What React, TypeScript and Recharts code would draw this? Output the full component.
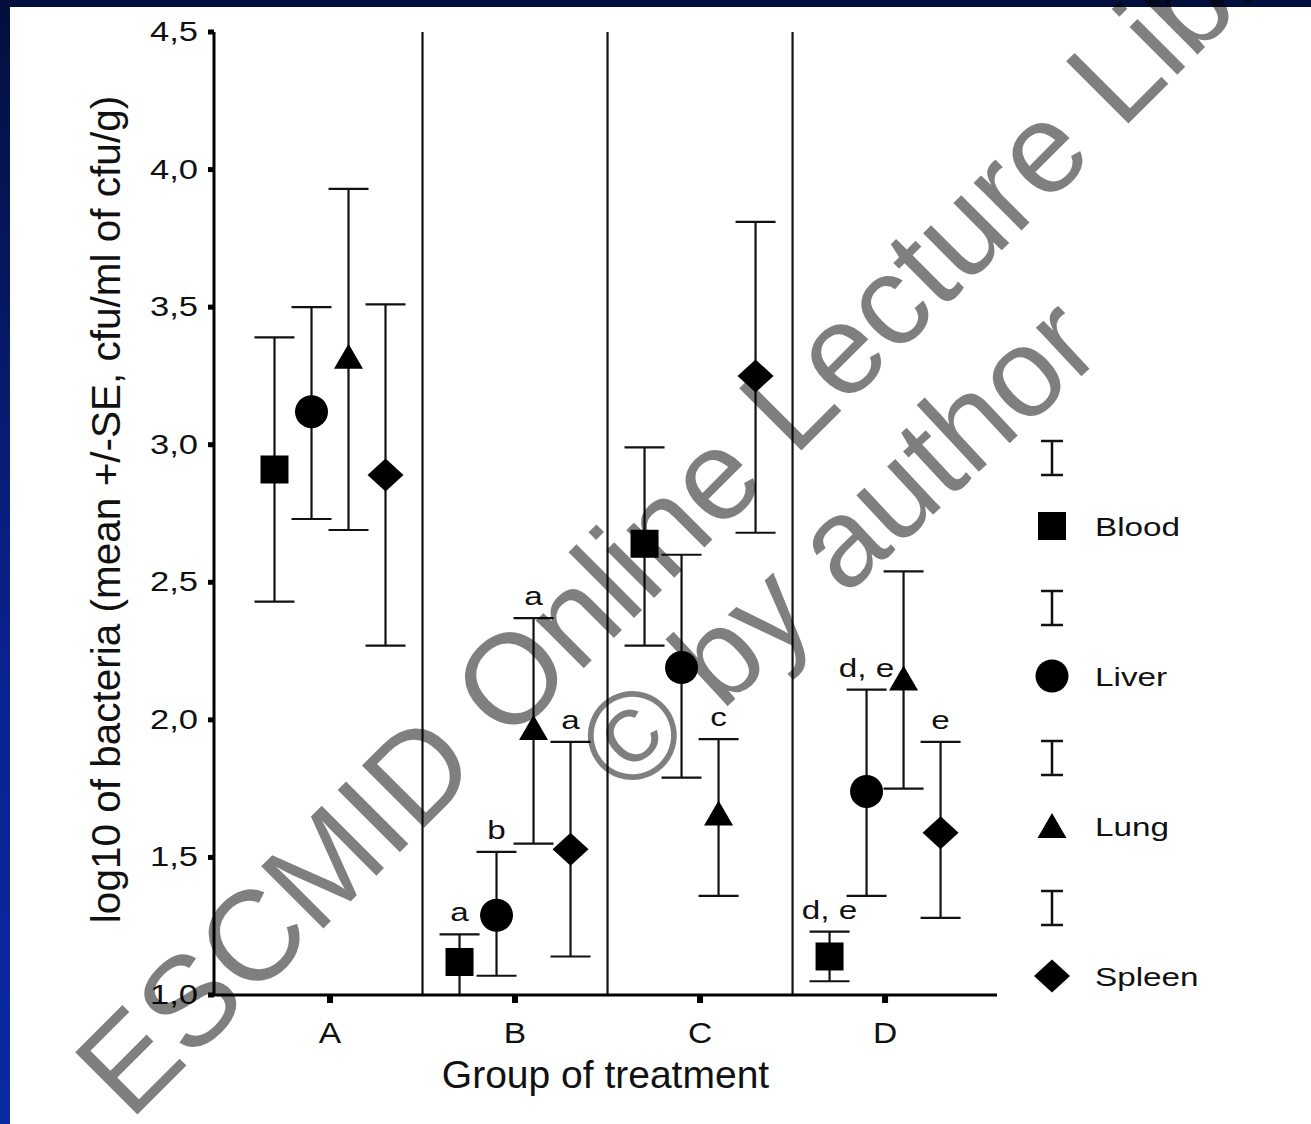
import React from "react";
import { ScatterChart, Scatter, XAxis, YAxis, ErrorBar, ReferenceLine, Legend, Label } from "recharts";

const groups = ["A", "B", "C", "D"];
const groupTicks = [1, 2, 3, 4];
const yTicks = [1, 1.5, 2, 2.5, 3, 3.5, 4, 4.5];
const groupBreaks = [1.5, 2.5, 3.5];

const bloodMean = [2.91, 1.12, 2.64, 1.14];
const bloodLow = [2.43, 1.0, 2.27, 1.05];
const bloodHigh = [3.39, 1.22, 2.99, 1.23];
const bloodNotes = ["", "a", "", "d, e"];

const liverMean = [3.12, 1.29, 2.19, 1.74];
const liverLow = [2.73, 1.07, 1.79, 1.36];
const liverHigh = [3.5, 1.52, 2.6, 2.11];
const liverNotes = ["", "b", "", "d, e"];

const lungMean = [3.32, 1.97, 1.66, 2.15];
const lungLow = [2.69, 1.55, 1.36, 1.75];
const lungHigh = [3.93, 2.37, 1.93, 2.54];
const lungNotes = ["", "a", "c", ""];

const spleenMean = [2.89, 1.53, 3.25, 1.59];
const spleenLow = [2.27, 1.14, 2.68, 1.28];
const spleenHigh = [3.51, 1.92, 3.81, 1.92];
const spleenNotes = ["", "a", "", "e"];

const FONT = "'Liberation Sans', Arial, Helvetica, sans-serif";
const STRETCH = 1.28;

const series = [
  { name: "Blood", kind: "square", mean: bloodMean, low: bloodLow, high: bloodHigh, notes: bloodNotes },
  { name: "Liver", kind: "circle", mean: liverMean, low: liverLow, high: liverHigh, notes: liverNotes },
  { name: "Lung", kind: "triangle", mean: lungMean, low: lungLow, high: lungHigh, notes: lungNotes },
  { name: "Spleen", kind: "diamond", mean: spleenMean, low: spleenLow, high: spleenHigh, notes: spleenNotes },
];
// horizontal dodge of each organ inside its group
const dodge = [-0.3, -0.1, 0.1, 0.3];

const points = series.map((s, k) =>
  groups.map((g, i) => ({
    group: g,
    x: i + 1 + dodge[k],
    y: s.mean[i],
    err: [s.mean[i] - s.low[i], s.high[i] - s.mean[i]],
    note: s.notes[i],
  }))
);
const notePoints = points.flat().filter((p) => p.note !== "").map((p) => ({ x: p.x, y: p.y + p.err[1], note: p.note }));

const Marker = ({ cx, cy, kind }: any) => {
  if (cx == null || cy == null) return null;
  if (kind === "square") return <rect x={cx - 14} y={cy - 14} width={28} height={28} fill="#000" />;
  if (kind === "circle") return <circle cx={cx} cy={cy} r={16.5} fill="#000" />;
  if (kind === "triangle")
    return <path d={`M${cx},${cy - 13}L${cx + 14.5},${cy + 12}L${cx - 14.5},${cy + 12}Z`} fill="#000" />;
  return <path d={`M${cx},${cy - 16.5}L${cx + 18},${cy}L${cx},${cy + 16.5}L${cx - 18},${cy}Z`} fill="#000" />;
};

const SmallText = ({ x, y, anchor = "start", children, size = 26, sx = STRETCH }: any) => (
  <g transform={`translate(${x},${y}) scale(${sx},1)`}>
    <text x={0} y={0} textAnchor={anchor} fontSize={size} fontFamily={FONT} fill="#111">
      {children}
    </text>
  </g>
);

const NoteShape = (props: any) => {
  const { cx, cy, payload } = props;
  if (cx == null || cy == null) return null;
  return (
    <SmallText x={cx} y={cy - 13} anchor="middle">
      {payload.note}
    </SmallText>
  );
};

const YTick = ({ x, y, payload }: any) => (
  <SmallText x={x - 8} y={y + 9} anchor="end" size={27}>
    {String(payload.value.toFixed(1)).replace(".", ",")}
  </SmallText>
);

const XTick = ({ x, y, payload }: any) => (
  <SmallText x={x} y={y + 38} anchor="middle" size={30} sx={1.12}>
    {groups[payload.value - 1]}
  </SmallText>
);

const ErrorIcon = ({ cx, cy }: any) => (
  <g stroke="#111" strokeWidth={2.5}>
    <line x1={cx} y1={cy - 17} x2={cx} y2={cy + 17} />
    <line x1={cx - 11} y1={cy - 17} x2={cx + 11} y2={cy - 17} />
    <line x1={cx - 11} y1={cy + 17} x2={cx + 11} y2={cy + 17} />
  </g>
);

const renderLegend = () => (
  <svg width={300} height={600}>
    {series.map((s, i) => {
      const cy = 106 + i * 150;
      return (
        <g key={s.name}>
          <ErrorIcon cx={52} cy={cy - 68} />
          <Marker cx={52} cy={cy} kind={s.kind} />
          <SmallText x={95} y={cy + 10}>
            {s.name}
          </SmallText>
        </g>
      );
    })}
  </svg>
);

export default function App() {
  return (
    <div
      style={{
        position: "absolute",
        left: 0,
        top: 0,
        width: 1311,
        height: 1124,
        background: "#fff",
        overflow: "hidden",
      }}
    >
      <ScatterChart width={1311} height={1124} margin={{ top: 32, right: 314, bottom: 0, left: 0 }}>
        <XAxis
          type="number"
          dataKey="x"
          domain={[0.373, 4.605]}
          ticks={groupTicks}
          allowDataOverflow
          height={129}
          axisLine={{ stroke: "#000", strokeWidth: 3 }}
          tickLine={{ stroke: "#000", strokeWidth: 6 }}
          tickSize={8}
          tick={<XTick />}
        >
          <Label
            content={({ viewBox }: any) => (
              <text
                x={viewBox.x + viewBox.width / 2}
                y={viewBox.y + 93}
                textAnchor="middle"
                fontSize={39}
                fontFamily={FONT}
                fill="#111"
              >
                Group of treatment
              </text>
            )}
          />
        </XAxis>
        <YAxis
          type="number"
          dataKey="y"
          domain={[1, 4.5]}
          ticks={yTicks}
          allowDataOverflow
          width={214}
          axisLine={{ stroke: "#000", strokeWidth: 3 }}
          tickLine={{ stroke: "#000", strokeWidth: 5 }}
          tickSize={6}
          tick={<YTick />}
        >
          <Label
            content={({ viewBox }: any) => {
              const cx = 106;
              const cy = viewBox.y + viewBox.height / 2 - 4;
              return (
                <text
                  x={cx}
                  y={cy}
                  transform={`rotate(-90, ${cx}, ${cy})`}
                  textAnchor="middle"
                  dominantBaseline="central"
                  fontSize={40.5}
                  fontFamily={FONT}
                  fill="#111"
                >
                  log10 of bacteria (mean +/-SE, cfu/ml of cfu/g)
                </text>
              );
            }}
          />
        </YAxis>
        {groupBreaks.map((b) => (
          <ReferenceLine key={b} x={b} stroke="#111" strokeWidth={2.2} />
        ))}
        {series.map((s, k) => (
          <Scatter
            key={s.name}
            name={s.name}
            data={points[k]}
            fill="#000"
            isAnimationActive={false}
            shape={(p: any) => <Marker {...p} kind={s.kind} />}
          >
            <ErrorBar dataKey="err" direction="y" width={20} stroke="#111" strokeWidth={2.2} />
          </Scatter>
        ))}
        <Scatter
          name="notes"
          data={notePoints}
          legendType="none"
          isAnimationActive={false}
          shape={(p: any) => <NoteShape {...p} />}
        />
        <Legend
          layout="vertical"
          align="center"
          verticalAlign="middle"
          content={renderLegend}
          wrapperStyle={{ position: "absolute", left: 1000, top: 420, width: 300, height: 600 }}
        />
      </ScatterChart>
      <div style={{ position: "absolute", left: 0, top: 0, width: 1311, height: 7, background: "#03103d" }} />
      <div
        style={{
          position: "absolute",
          left: 0,
          top: 0,
          width: 10,
          height: 1124,
          background: "linear-gradient(to bottom, #03103d, #0b2291 60%, #0a2aa2)",
        }}
      />
      <svg
        width={1311}
        height={1124}
        style={{ position: "absolute", left: 0, top: 0, pointerEvents: "none" }}
      >
        <g fontFamily={FONT} fill="#000" fillOpacity={0.5}>
          <text fontSize={128} transform="translate(130,1122) rotate(-45)">
            ESCMID Online Lecture Library
          </text>
          <text fontSize={126} transform="translate(628,799) rotate(-43)">
            © by author
          </text>
        </g>
      </svg>
    </div>
  );
}
